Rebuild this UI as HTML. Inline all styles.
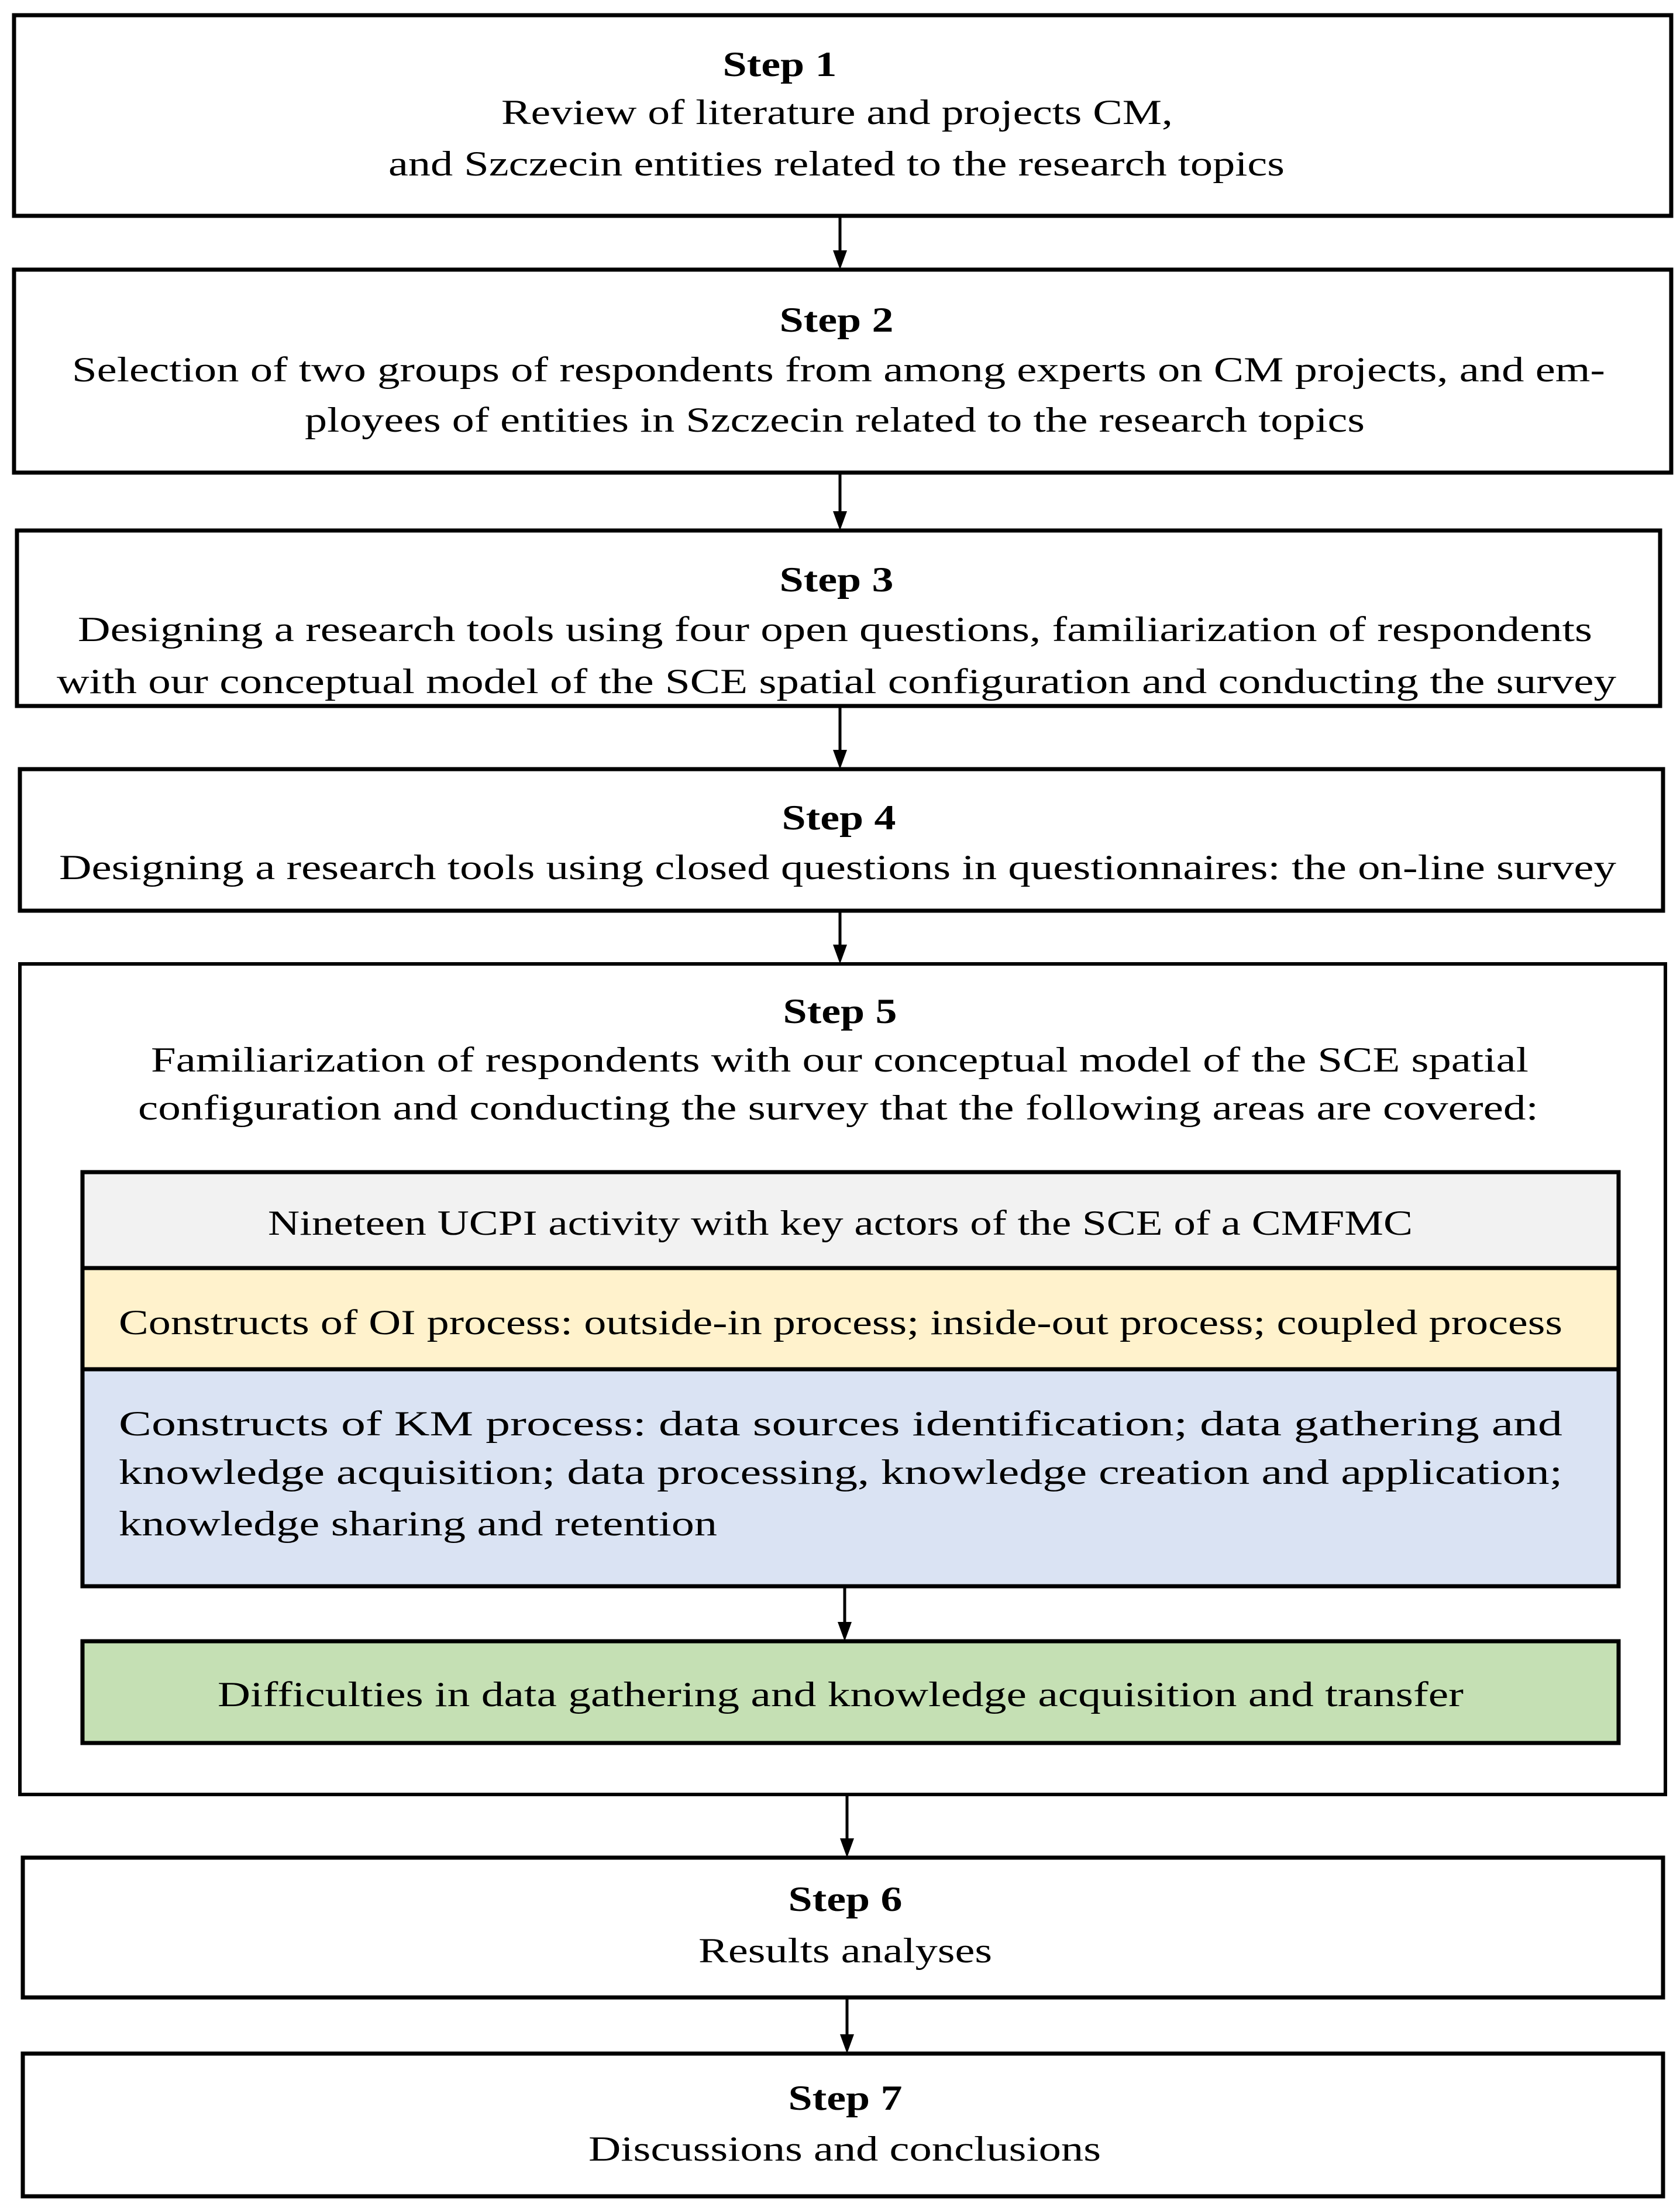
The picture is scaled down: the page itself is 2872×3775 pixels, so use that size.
<!DOCTYPE html>
<html><head><meta charset="utf-8"><style>body{margin:0;background:#fff}svg{display:block}</style></head>
<body>
<svg width="2872" height="3775" viewBox="0 0 2872 3775" xmlns="http://www.w3.org/2000/svg" font-family="'Liberation Serif', serif" font-size="60" fill="#000">
<g fill="none" stroke="#000" stroke-width="7">
<rect x="24" y="26" width="2833" height="343"/>
<rect x="24" y="461" width="2833" height="347"/>
<rect x="29" y="907" width="2809" height="300"/>
<rect x="34" y="1315" width="2809" height="242"/>
<rect x="34" y="1648" width="2813" height="1420" stroke-width="6"/>
<rect x="141" y="2004" width="2626" height="164" fill="#f2f2f2"/>
<rect x="141" y="2168" width="2626" height="173" fill="#fff2cc"/>
<rect x="141" y="2341" width="2626" height="371" fill="#dae3f3"/>
<rect x="141" y="2806" width="2626" height="174" fill="#c5e0b4"/>
<rect x="39" y="3176" width="2804" height="239"/>
<rect x="39" y="3511" width="2804" height="244"/>
</g>
<g stroke="#000" stroke-width="5">
<line x1="1436" y1="369" x2="1436" y2="432"/>
<line x1="1436" y1="808" x2="1436" y2="878"/>
<line x1="1436" y1="1207" x2="1436" y2="1287"/>
<line x1="1436" y1="1557" x2="1436" y2="1620"/>
<line x1="1444" y1="2712" x2="1444" y2="2778"/>
<line x1="1448" y1="3068" x2="1448" y2="3148"/>
<line x1="1448" y1="3415" x2="1448" y2="3483"/>
</g>
<g>
<polygon points="1424,428 1448,428 1436,461"/>
<polygon points="1424,874 1448,874 1436,907"/>
<polygon points="1424,1282 1448,1282 1436,1315"/>
<polygon points="1424,1615 1448,1615 1436,1648"/>
<polygon points="1432,2773 1456,2773 1444,2806"/>
<polygon points="1436,3143 1460,3143 1448,3176"/>
<polygon points="1436,3478 1460,3478 1448,3511"/>
</g>
<g lengthAdjust="spacingAndGlyphs">
<text x="1333" y="130" font-weight="bold" text-anchor="middle" textLength="195" lengthAdjust="spacingAndGlyphs">Step 1</text>
<text x="857" y="212" textLength="1148" lengthAdjust="spacingAndGlyphs">Review of literature and projects CM,</text>
<text x="664" y="300" textLength="1532" lengthAdjust="spacingAndGlyphs">and Szczecin entities related to the research topics</text>

<text x="1430" y="567" font-weight="bold" text-anchor="middle" textLength="195" lengthAdjust="spacingAndGlyphs">Step 2</text>
<text x="123" y="652" textLength="2621" lengthAdjust="spacingAndGlyphs">Selection of two groups of respondents from among experts on CM projects, and em-</text>
<text x="521" y="738" textLength="1812" lengthAdjust="spacingAndGlyphs">ployees of entities in Szczecin related to the research topics</text>

<text x="1430" y="1011" font-weight="bold" text-anchor="middle" textLength="195" lengthAdjust="spacingAndGlyphs">Step 3</text>
<text x="133" y="1096" textLength="2589" lengthAdjust="spacingAndGlyphs">Designing a research tools using four open questions, familiarization of respondents</text>
<text x="97" y="1185" textLength="2666" lengthAdjust="spacingAndGlyphs">with our conceptual model of the SCE spatial configuration and conducting the survey</text>

<text x="1434" y="1418" font-weight="bold" text-anchor="middle" textLength="195" lengthAdjust="spacingAndGlyphs">Step 4</text>
<text x="101" y="1503" textLength="2662" lengthAdjust="spacingAndGlyphs">Designing a research tools using closed questions in questionnaires: the on-line survey</text>

<text x="1436" y="1749" font-weight="bold" text-anchor="middle" textLength="195" lengthAdjust="spacingAndGlyphs">Step 5</text>
<text x="258" y="1832" textLength="2355" lengthAdjust="spacingAndGlyphs">Familiarization of respondents with our conceptual model of the SCE spatial</text>
<text x="236" y="1914" textLength="2394" lengthAdjust="spacingAndGlyphs">configuration and conducting the survey that the following areas are covered:</text>

<text x="458" y="2111" textLength="1957" lengthAdjust="spacingAndGlyphs">Nineteen UCPI activity with key actors of the SCE of a CMFMC</text>
<text x="203" y="2281" textLength="2468" lengthAdjust="spacingAndGlyphs">Constructs of OI process: outside-in process; inside-out process; coupled process</text>
<text x="203" y="2454" textLength="2468" lengthAdjust="spacingAndGlyphs">Constructs of KM process: data sources identification; data gathering and</text>
<text x="203" y="2537" textLength="2468" lengthAdjust="spacingAndGlyphs">knowledge acquisition; data processing, knowledge creation and application;</text>
<text x="203" y="2625" textLength="1023" lengthAdjust="spacingAndGlyphs">knowledge sharing and retention</text>
<text x="372" y="2917" textLength="2130" lengthAdjust="spacingAndGlyphs">Difficulties in data gathering and knowledge acquisition and transfer</text>

<text x="1445" y="3267" font-weight="bold" text-anchor="middle" textLength="195" lengthAdjust="spacingAndGlyphs">Step 6</text>
<text x="1194" y="3355" textLength="502" lengthAdjust="spacingAndGlyphs">Results analyses</text>

<text x="1445" y="3607" font-weight="bold" text-anchor="middle" textLength="195" lengthAdjust="spacingAndGlyphs">Step 7</text>
<text x="1006" y="3694" textLength="876" lengthAdjust="spacingAndGlyphs">Discussions and conclusions</text>
</g>
</svg>
</body></html>
